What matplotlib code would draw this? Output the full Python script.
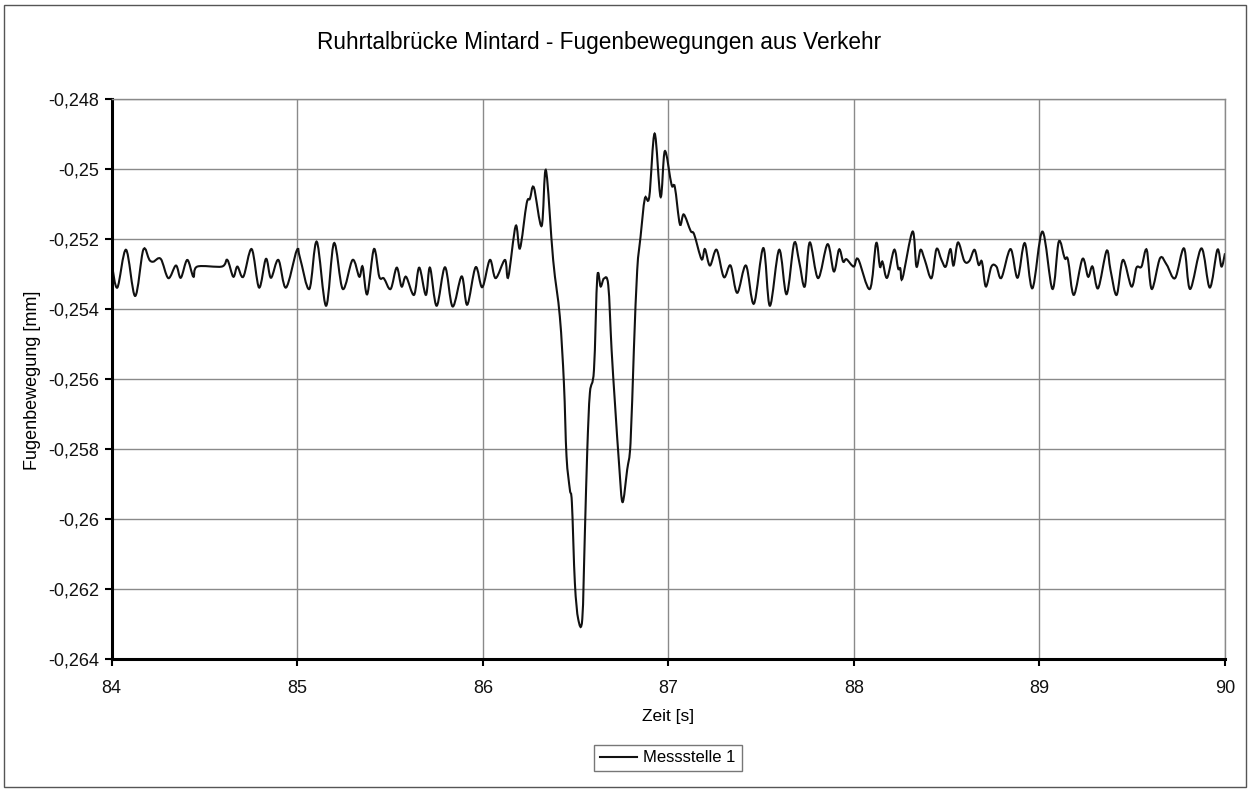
"""Joint movement trace, Ruhrtalbrücke Mintard, sensor 1."""

import matplotlib

matplotlib.use("Agg")
import matplotlib.pyplot as plt
import numpy as np
from matplotlib.lines import Line2D
from matplotlib.patches import PathPatch, Rectangle
from matplotlib.path import Path
from matplotlib.ticker import FuncFormatter, MultipleLocator

plt.rcParams["font.family"] = ["Liberation Sans", "DejaVu Sans"]

TITLE = "Ruhrtalbrücke Mintard - Fugenbewegungen aus Verkehr"
X_LABEL = "Zeit [s]"
Y_LABEL = "Fugenbewegung [mm]"
SERIES_NAME = "Messstelle 1"

# time [s]
zeit = [
    84.000, 84.030, 84.077, 84.126, 84.170, 84.203, 84.224, 84.264, 84.305, 84.346,
    84.372, 84.407, 84.440, 84.461, 84.593, 84.623, 84.655, 84.677, 84.709, 84.754,
    84.794, 84.831, 84.858, 84.898, 84.939, 84.997, 85.015, 85.065, 85.105, 85.155,
    85.198, 85.245, 85.298, 85.334, 85.352, 85.377, 85.413, 85.442, 85.467, 85.503,
    85.536, 85.562, 85.586, 85.629, 85.657, 85.693, 85.715, 85.751, 85.796, 85.837,
    85.886, 85.916, 85.961, 85.997, 86.038, 86.069, 86.119, 86.137, 86.177, 86.200,
    86.236, 86.254, 86.275, 86.317, 86.340, 86.379, 86.415, 86.437, 86.451, 86.469,
    86.480, 86.496, 86.514, 86.536, 86.550, 86.563, 86.577, 86.599, 86.617, 86.635,
    86.653, 86.676, 86.694, 86.712, 86.735, 86.753, 86.778, 86.796, 86.814, 86.832,
    86.850, 86.873, 86.897, 86.926, 86.958, 86.981, 87.017, 87.035, 87.062, 87.083,
    87.120, 87.139, 87.179, 87.197, 87.224, 87.260, 87.299, 87.335, 87.371, 87.418,
    87.461, 87.512, 87.547, 87.597, 87.637, 87.678, 87.705, 87.735, 87.762, 87.807,
    87.858, 87.892, 87.920, 87.942, 87.960, 87.999, 88.023, 88.086, 88.120, 88.140,
    88.154, 88.179, 88.217, 88.238, 88.250, 88.262, 88.316, 88.337, 88.359, 88.382,
    88.418, 88.445, 88.472, 88.495, 88.520, 88.537, 88.561, 88.595, 88.622, 88.650,
    88.672, 88.690, 88.711, 88.741, 88.768, 88.795, 88.844, 88.882, 88.921, 88.962,
    89.016, 89.070, 89.104, 89.136, 89.154, 89.185, 89.232, 89.262, 89.286, 89.316,
    89.362, 89.383, 89.416, 89.450, 89.496, 89.523, 89.550, 89.578, 89.605, 89.650,
    89.686, 89.731, 89.779, 89.812, 89.873, 89.918, 89.959, 89.981, 90.000,
]

# joint movement [mm]
fugenbewegung = [
    -0.25270, -0.25338, -0.25230, -0.25362, -0.25230, -0.25259, -0.25264, -0.25256, -0.25311, -0.25275,
    -0.25310, -0.25259, -0.25307, -0.25278, -0.25278, -0.25259, -0.25307, -0.25278, -0.25307, -0.25228,
    -0.25338, -0.25256, -0.25310, -0.25259, -0.25338, -0.25232, -0.25254, -0.25342, -0.25207, -0.25390,
    -0.25211, -0.25342, -0.25259, -0.25307, -0.25278, -0.25357, -0.25228, -0.25307, -0.25312, -0.25342,
    -0.25281, -0.25335, -0.25307, -0.25359, -0.25281, -0.25359, -0.25281, -0.25390, -0.25280, -0.25392,
    -0.25306, -0.25387, -0.25280, -0.25337, -0.25259, -0.25311, -0.25259, -0.25308, -0.25162, -0.25226,
    -0.25098, -0.25084, -0.25052, -0.25162, -0.25003, -0.25259, -0.25421, -0.25611, -0.25820, -0.25915,
    -0.25953, -0.26181, -0.26285, -0.26285, -0.26039, -0.25801, -0.25639, -0.25573, -0.25307, -0.25335,
    -0.25312, -0.25331, -0.25516, -0.25668, -0.25848, -0.25951, -0.25858, -0.25782, -0.25516, -0.25288,
    -0.25193, -0.25084, -0.25079, -0.24898, -0.25079, -0.24948, -0.25044, -0.25051, -0.25157, -0.25129,
    -0.25176, -0.25186, -0.25257, -0.25228, -0.25275, -0.25230, -0.25308, -0.25275, -0.25353, -0.25275,
    -0.25384, -0.25225, -0.25390, -0.25230, -0.25357, -0.25211, -0.25264, -0.25335, -0.25209, -0.25311,
    -0.25214, -0.25292, -0.25229, -0.25264, -0.25257, -0.25278, -0.25257, -0.25342, -0.25211, -0.25278,
    -0.25264, -0.25310, -0.25230, -0.25283, -0.25283, -0.25311, -0.25178, -0.25278, -0.25230, -0.25259,
    -0.25311, -0.25228, -0.25259, -0.25278, -0.25228, -0.25275, -0.25209, -0.25262, -0.25262, -0.25230,
    -0.25273, -0.25264, -0.25335, -0.25278, -0.25278, -0.25310, -0.25228, -0.25310, -0.25211, -0.25340,
    -0.25178, -0.25342, -0.25207, -0.25254, -0.25259, -0.25359, -0.25256, -0.25307, -0.25278, -0.25340,
    -0.25233, -0.25288, -0.25359, -0.25259, -0.25335, -0.25281, -0.25278, -0.25230, -0.25342, -0.25254,
    -0.25273, -0.25311, -0.25226, -0.25342, -0.25226, -0.25338, -0.25230, -0.25278, -0.25240,
]

x_ticks = [84, 85, 86, 87, 88, 89, 90]
y_ticks = [-0.264, -0.262, -0.26, -0.258, -0.256, -0.254, -0.252, -0.25, -0.248]


def smooth_path(x, y):
    """Build a Catmull-Rom style Bezier path through the measured points."""
    pts = np.column_stack([x, y])
    padded = np.vstack([pts[0], pts, pts[-1]])
    verts = [pts[0]]
    codes = [Path.MOVETO]
    for i in range(len(pts) - 1):
        p0, p1, p2, p3 = padded[i], padded[i + 1], padded[i + 2], padded[i + 3]
        c1 = p1 + (p2 - p0) / 6.0
        c2 = p2 - (p3 - p1) / 6.0
        verts.extend([c1, c2, p2])
        codes.extend([Path.CURVE4] * 3)
    return Path(verts, codes)


def comma_format(val, _pos):
    text = f"{round(val, 3):.3f}".rstrip("0").rstrip(".")
    return text.replace(".", ",")


fig = plt.figure(figsize=(12.5, 7.91), dpi=100)
ax = fig.add_axes([0.0894, 0.1665, 0.8906, 0.708])

line_color = "#111111"
ax.add_patch(
    PathPatch(smooth_path(zeit, fugenbewegung), fill=False, edgecolor=line_color,
              linewidth=1.5, clip_on=True)
)

ax.set_xlim(x_ticks[0], x_ticks[-1])
ax.set_ylim(y_ticks[0], y_ticks[-1])
ax.xaxis.set_major_locator(MultipleLocator(1))
ax.set_yticks(y_ticks)
ax.yaxis.set_major_formatter(FuncFormatter(comma_format))
ax.grid(True, color="#8a8a8a", linewidth=1.0)
ax.set_axisbelow(True)

for side in ("top", "right"):
    ax.spines[side].set_color("#8a8a8a")
    ax.spines[side].set_linewidth(1.0)
for side in ("left", "bottom"):
    ax.spines[side].set_color("black")
    ax.spines[side].set_linewidth(2.2)

ax.tick_params(axis="both", direction="out", length=5, width=1.5, color="black",
               labelsize=13, labelcolor="#111111")
ax.tick_params(axis="y", pad=4)
ax.tick_params(axis="x", pad=10)

fig.text(599 / 1250, 1 - 42 / 791, TITLE, ha="center", va="center", fontsize=16.3)
fig.text(668 / 1250, 1 - 716 / 791, X_LABEL, ha="center", va="center", fontsize=12.5)
fig.text(33 / 1250, 1 - 380 / 791, Y_LABEL, ha="center", va="center", rotation=90,
         fontsize=13)

handle = Line2D([], [], color=line_color, linewidth=1.5)
leg = fig.legend([handle], [SERIES_NAME], loc="center",
                 bbox_to_anchor=(668 / 1250, 1 - 758 / 791), fontsize=12,
                 frameon=True, fancybox=False, handlelength=2.2, handletextpad=0.4,
                 borderpad=0.35)
leg.get_frame().set_edgecolor("#555555")
leg.get_frame().set_linewidth(1.0)

fig.patches.append(
    Rectangle((4 / 1250, 4 / 791), 1242 / 1250, 782 / 791, transform=fig.transFigure,
              fill=False, edgecolor="#555555", linewidth=1.0)
)

fig.savefig("out.png", dpi=100)
